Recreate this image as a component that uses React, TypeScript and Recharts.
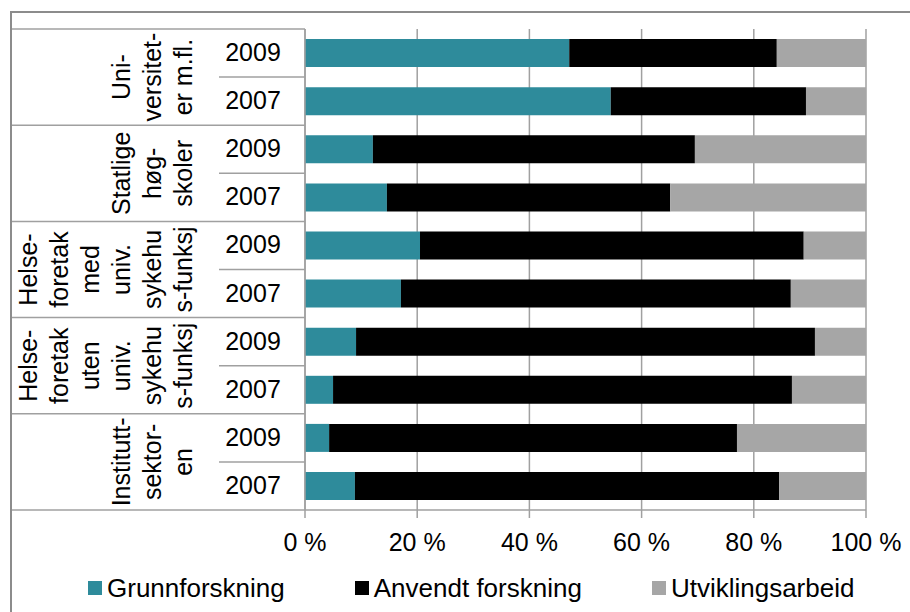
import React from 'react'
import { BarChart, Bar, XAxis, YAxis, CartesianGrid, Legend } from 'recharts'

const FONT = '"Liberation Sans", Arial, sans-serif'
const TEAL = '#2E8B9B'
const GREY = '#A6A6A6'
const LINE = '#A0A0A0'

// rader ovenfra og ned
const years = ['2009', '2007', '2009', '2007', '2009', '2007', '2009', '2007', '2009', '2007']
const grunnforskning = [47.1, 54.5, 12.1, 14.6, 20.5, 17.1, 9.1, 5.0, 4.3, 8.9]
const anvendt = [37.0, 34.8, 57.4, 50.5, 68.4, 69.5, 81.8, 81.8, 72.7, 75.6]
const utvikling = [15.9, 10.7, 30.5, 34.9, 11.1, 13.4, 9.1, 13.2, 23.0, 15.5]

// én gruppe per to rader
const groupLabels = [
  ['Uni-', 'versitet-', 'er m.fl.'],
  ['Statlige', 'høg-', 'skoler'],
  ['Helse-', 'foretak', 'med', 'univ.', 'sykehu', 's-funksj'],
  ['Helse-', 'foretak', 'uten', 'univ.', 'sykehu', 's-funksj'],
  ['Institutt-', 'sektor-', 'en'],
]

const xTicks = [0, 20, 40, 60, 80, 100]

const legendItems = [
  { name: 'Grunnforskning', color: TEAL },
  { name: 'Anvendt forskning', color: '#000' },
  { name: 'Utviklingsarbeid', color: GREY },
]

const W = 910
const H = 612
const TOP = 29
const XAXIS_H = 50
const LEGEND_H = 52
const ROW_H = (H - TOP - XAXIS_H - LEGEND_H) / years.length

const data = years.map((y, i) => ({
  key: `r${i}`,
  year: y,
  grunn: grunnforskning[i],
  anvendt: anvendt[i],
  utvikling: utvikling[i],
}))

function YearTick(props: any) {
  const { y, index } = props
  const top = y - ROW_H / 2
  const bottom = y + ROW_H / 2
  const endOfGroup = index % 2 === 1
  const lines = groupLabels[Math.floor(index / 2)]
  return (
    <g>
      {index === 0 && <line x1={12} x2={305} y1={top} y2={top} stroke={LINE} strokeWidth={1.5} />}
      <line x1={endOfGroup ? 12 : 219} x2={305} y1={bottom} y2={bottom} stroke={LINE} strokeWidth={1.5} />
      <text x={253} y={y - 1} textAnchor="middle" dominantBaseline="central" fontSize={25} fontFamily={FONT} fill="#000">
        {years[index]}
      </text>
      {index % 2 === 0 &&
        lines.map((t, i) => {
          const cx = 183 - (lines.length - 1 - i) * 31
          const cy = bottom
          return (
            <text
              key={i}
              x={cx}
              y={cy}
              transform={`rotate(-90 ${cx} ${cy})`}
              textAnchor="middle"
              dominantBaseline="central"
              fontSize={25}
              fontFamily={FONT}
              fill="#000"
            >
              {t}
            </text>
          )
        })}
    </g>
  )
}

function LegendBox() {
  return (
    <div style={{ height: LEGEND_H, display: 'flex', alignItems: 'center', paddingLeft: 88, gap: 70, fontFamily: FONT, fontSize: 26, paddingTop: 4, boxSizing: 'border-box' }}>
      {legendItems.map(it => (
        <div key={it.name} style={{ display: 'flex', alignItems: 'center' }}>
          <span style={{ width: 14, height: 14, background: it.color, display: 'inline-block', marginRight: 5 }} />
          <span>{it.name}</span>
        </div>
      ))}
    </div>
  )
}

export default function App() {
  return (
    <div style={{ position: 'absolute', left: 0, top: 0, width: W, height: H, background: '#fff' }}>
      <div style={{ position: 'absolute', left: 10, top: 11, width: W - 10, height: H - 11, borderLeft: '2px solid #8C8C8C', borderTop: '2px solid #8C8C8C' }} />
      <div style={{ position: 'absolute', left: 0, top: 0 }}>
        <BarChart
          width={W}
          height={H}
          data={data}
          layout="vertical"
          margin={{ top: TOP, right: 44, bottom: 0, left: 0 }}
          barCategoryGap="21%"
        >
          <CartesianGrid horizontal={false} stroke={LINE} strokeWidth={1.5} />
          <XAxis
            type="number"
            domain={[0, 100]}
            ticks={xTicks}
            tickFormatter={v => `${v} %`}
            height={XAXIS_H}
            axisLine={{ stroke: LINE, strokeWidth: 1.5 }}
            tickLine={{ stroke: LINE, strokeWidth: 1.5 }}
            tickSize={8}
            tickMargin={15}
            tick={{ fill: '#000', fontSize: 25, fontFamily: FONT }}
            interval={0}
          />
          <YAxis
            type="category"
            dataKey="key"
            width={305}
            axisLine={{ stroke: LINE, strokeWidth: 1.5 }}
            tickLine={false}
            tick={<YearTick />}
            interval={0}
          />
          <Legend verticalAlign="bottom" content={<LegendBox />} />
          <Bar dataKey="grunn" name="Grunnforskning" stackId="a" fill={TEAL} isAnimationActive={false} />
          <Bar dataKey="anvendt" name="Anvendt forskning" stackId="a" fill="#000" isAnimationActive={false} />
          <Bar dataKey="utvikling" name="Utviklingsarbeid" stackId="a" fill={GREY} isAnimationActive={false} />
        </BarChart>
      </div>
    </div>
  )
}
